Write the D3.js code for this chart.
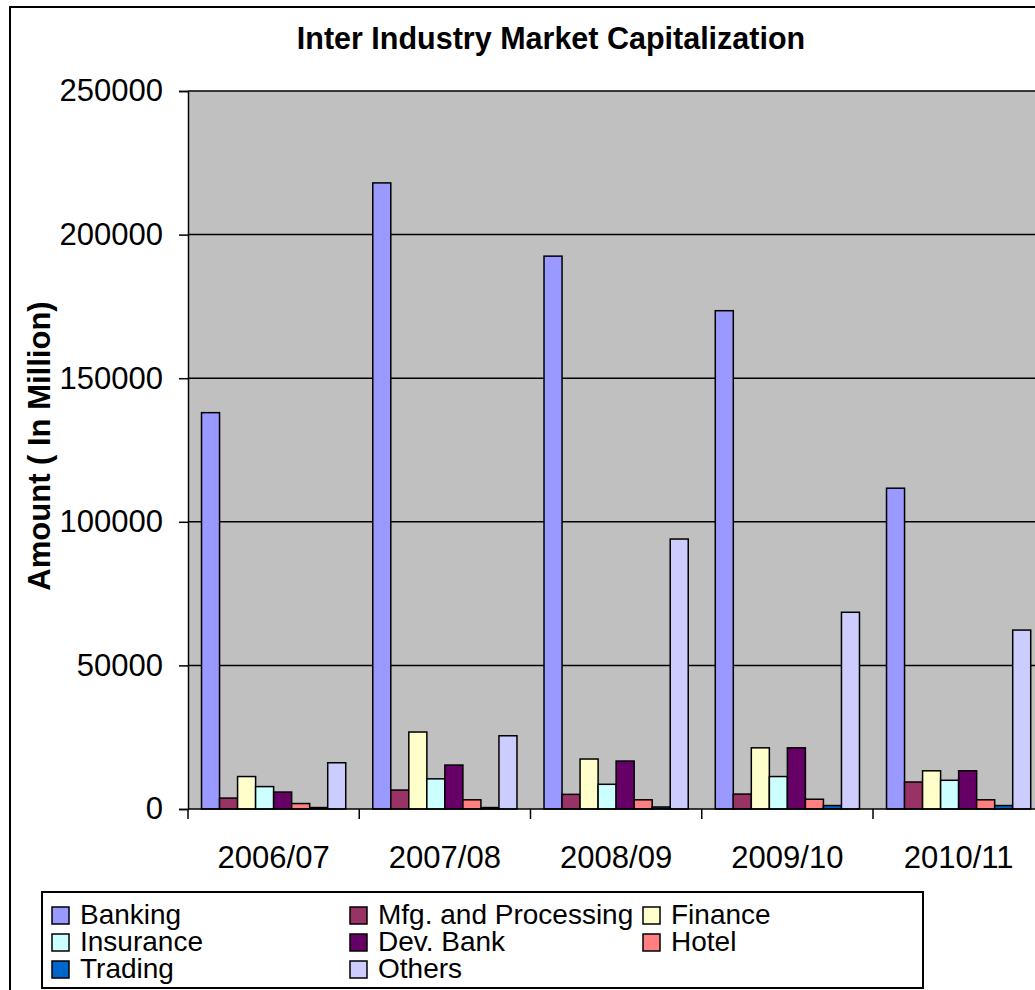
<!DOCTYPE html>
<html>
<head>
<meta charset="utf-8">
<script src="https://cdn.jsdelivr.net/npm/d3@7"></script>
<style>
  html, body { margin: 0; padding: 0; background: #fff; }
  svg { display: block; font-family: "Liberation Sans", Arial, sans-serif; }
</style>
</head>
<body>
<svg id="chart" width="1035" height="990"></svg>
<script>
// Market capitalization by industry group, in million
const years = ["2006/07", "2007/08", "2008/09", "2009/10", "2010/11"];
const sectors = ["Banking", "Mfg. and Processing", "Finance", "Insurance", "Dev. Bank", "Hotel", "Trading", "Others"];
const banking     = [138000, 218000, 192500, 173500, 111700];
const mfg         = [3800, 6600, 5100, 5200, 9400];
const finance     = [11300, 26800, 17400, 21300, 13300];
const insurance   = [7800, 10500, 8600, 11300, 10000];
const devBank     = [5900, 15300, 16700, 21300, 13300];
const hotel       = [1900, 3200, 3200, 3400, 3200];
const trading     = [500, 500, 700, 1200, 1200];
const others      = [16100, 25500, 94000, 68500, 62300];
const yTicks      = [0, 50000, 100000, 150000, 200000, 250000];
const colors      = ["#9999FF", "#993366", "#FFFFCC", "#CCFFFF", "#660066", "#FF8080", "#0066CC", "#CCCCFF"];

const seriesValues = [banking, mfg, finance, insurance, devBank, hotel, trading, others];

const svg = d3.select("#chart");

// outer chart frame
svg.append("rect")
  .attr("x", 10).attr("y", 7)
  .attr("width", 1200).attr("height", 1200)
  .attr("fill", "#fff").attr("stroke", "#000").attr("stroke-width", 2);

const plotLeft = 188, plotTop = 91, plotBottom = 809, step = 171.25;

const x0 = d3.scaleBand().domain(years)
  .range([plotLeft, plotLeft + step * years.length])
  .paddingInner(0).paddingOuter(0);
const x1 = d3.scaleBand().domain(sectors)
  .range([0, x0.bandwidth()])
  .paddingInner(0).paddingOuter(0.75);
const y = d3.scaleLinear().domain([0, 250000]).range([plotBottom, plotTop]);

// plot background
svg.append("rect")
  .attr("x", plotLeft).attr("y", plotTop)
  .attr("width", step * years.length).attr("height", plotBottom - plotTop)
  .attr("fill", "#C0C0C0");

// horizontal gridlines
svg.append("g").selectAll("line")
  .data(yTicks.filter(d => d > 0))
  .join("line")
  .attr("x1", plotLeft).attr("x2", plotLeft + step * years.length)
  .attr("y1", d => y(d)).attr("y2", d => y(d))
  .attr("stroke", "#000").attr("stroke-width", 1.5);

// bars
const groups = svg.append("g").selectAll("g")
  .data(years)
  .join("g")
  .attr("transform", d => `translate(${x0(d)},0)`);

groups.selectAll("rect")
  .data((yr, i) => sectors.map((s, k) => ({ s, k, v: seriesValues[k][i] })))
  .join("rect")
  .attr("x", d => x1(d.s))
  .attr("y", d => y(d.v))
  .attr("width", x1.bandwidth())
  .attr("height", d => y(0) - y(d.v))
  .attr("fill", d => colors[d.k])
  .attr("stroke", "#000").attr("stroke-width", 1.5);

// y axis
const yAxis = d3.axisLeft(y).tickValues(yTicks).tickSize(9).tickPadding(16)
  .tickFormat(d3.format("d"));
const yg = svg.append("g").attr("transform", `translate(${plotLeft},0)`).call(yAxis);
yg.select(".domain").attr("stroke", "#000").attr("stroke-width", 1.5);
yg.selectAll(".tick line").attr("stroke", "#000").attr("stroke-width", 1.5);
yg.selectAll(".tick text").attr("font-size", 31).attr("fill", "#000")
  .attr("font-family", "'Liberation Sans', Arial, sans-serif");

// x axis: ticks sit on category boundaries, labels at category centres
const xg = svg.append("g").attr("transform", `translate(0,${plotBottom})`);
xg.append("line")
  .attr("x1", plotLeft).attr("x2", plotLeft + step * years.length)
  .attr("stroke", "#000").attr("stroke-width", 1.5);
xg.selectAll("line.tk")
  .data(years)
  .join("line").attr("class", "tk")
  .attr("x1", d => x0(d)).attr("x2", d => x0(d))
  .attr("y1", 0).attr("y2", 10)
  .attr("stroke", "#000").attr("stroke-width", 1.5);
xg.selectAll("text")
  .data(years)
  .join("text")
  .attr("x", d => x0(d) + x0.bandwidth() / 2)
  .attr("y", 59)
  .attr("text-anchor", "middle")
  .attr("font-size", 31)
  .text(d => d);

// title
svg.append("text")
  .attr("x", 551).attr("y", 49)
  .attr("text-anchor", "middle")
  .attr("font-size", 30.5).attr("font-weight", "bold")
  .text("Inter Industry Market Capitalization");

// y axis title
svg.append("text")
  .attr("transform", "translate(50,446) rotate(-90)")
  .attr("text-anchor", "middle")
  .attr("font-size", 31).attr("font-weight", "bold")
  .text("Amount ( In Million)");

// legend
const legend = svg.append("g");
legend.append("rect")
  .attr("x", 42).attr("y", 892).attr("width", 881).attr("height", 96)
  .attr("fill", "#fff").attr("stroke", "#000").attr("stroke-width", 2);

const colX = [52, 350, 643];
const rowY = [907, 934, 961];
const items = legend.selectAll("g.item")
  .data(sectors)
  .join("g").attr("class", "item")
  .attr("transform", (d, i) => `translate(${colX[i % 3]},${rowY[Math.floor(i / 3)]})`);
items.append("rect")
  .attr("width", 17).attr("height", 17)
  .attr("fill", (d, i) => colors[i])
  .attr("stroke", "#000").attr("stroke-width", 1.5);
items.append("text")
  .attr("x", 28).attr("y", 17)
  .attr("font-size", 28)
  .text(d => d);
</script>
</body>
</html>
